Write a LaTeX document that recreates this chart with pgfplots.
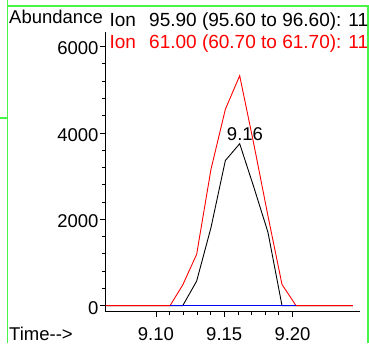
\documentclass[border=0pt]{standalone}
\usepackage{fontspec}
\setmainfont{Liberation Sans}
\usepackage{pgfplots}
\pgfplotsset{compat=1.18}
\definecolor{frame}{RGB}{70,245,70}
\begin{document}
\begin{tikzpicture}[x=1pt,y=1pt]
\useasboundingbox (0,0) rectangle (369,343);
\draw[frame, line width=1.3pt] (7.5,0) -- (7.5,343);
\draw[frame, line width=1.3pt] (7.5,337) -- (368,337) -- (368,0);
\draw[frame, line width=1.3pt] (0,225) -- (7.5,225);
\begin{axis}[
  at={(105.7pt,31.3pt)}, anchor=south west,
  scale only axis, width=254.3pt, height=280pt,
  xmin=9.0632, xmax=9.2494, ymin=-139, ymax=6343,
  axis lines=left, axis line style={-, line width=0.8pt},
  xtick={9.10,9.15,9.20}, minor x tick num=4,
  ytick={0,2000,4000,6000}, minor y tick num=4,
  tick align=outside, major tick length=5.5pt, minor tick length=3.5pt,
  tick style={black, line width=0.8pt},
  xticklabel style={/pgf/number format/.cd, fixed, fixed zerofill, precision=2, /tikz/.cd, font=\fontsize{18.5}{20}\selectfont, inner sep=0pt, anchor=north, yshift=-10pt},
  yticklabel style={/pgf/number format/1000 sep={}, font=\fontsize{18.5}{20}\selectfont, inner sep=0pt, anchor=east, xshift=-1.5pt, yshift=-2pt},
  /pgf/number format/assume math mode=true,
  clip=false,
]
\addplot[black, line width=0.9pt] coordinates {
 (9.0632,0) (9.1196,0) (9.1298,570) (9.1403,1810) (9.1508,3360) (9.1613,3750)
 (9.1716,2750) (9.1820,1700) (9.1923,0) (9.2442,0)};
\addplot[red, line width=0.9pt] coordinates {
 (9.0632,0) (9.1103,0) (9.1196,480) (9.1298,1190) (9.1403,3160) (9.1508,4546)
 (9.1613,5324) (9.1716,3750) (9.1820,2080) (9.1923,490) (9.2026,0) (9.2442,0)};
\addplot[blue, line width=0.9pt] coordinates {(9.1103,0) (9.2026,0)};
\node[anchor=base, inner sep=0pt, xshift=5.3pt, yshift=3pt, font=\fontsize{18.5}{20}\selectfont] at (axis cs:9.1613,3750) {9.16};
\end{axis}
\node[anchor=base west, inner sep=0pt, font=\fontsize{18.5}{20}\selectfont] at (9,319) {Abundance};
\node[anchor=base west, inner sep=0pt, font=\fontsize{19}{20}\selectfont] at (109.3,316.3) {Ion\hspace{0.7em}95.90 (95.60 to 96.60): 11};
\node[anchor=base west, inner sep=0pt, text=red, font=\fontsize{19}{20}\selectfont] at (109.3,294.7) {Ion\hspace{0.7em}61.00 (60.70 to 61.70): 11};
\node[anchor=base west, inner sep=0pt, font=\fontsize{18.5}{20}\selectfont] at (9,3) {Time-{}->};
\end{tikzpicture}
\end{document}
